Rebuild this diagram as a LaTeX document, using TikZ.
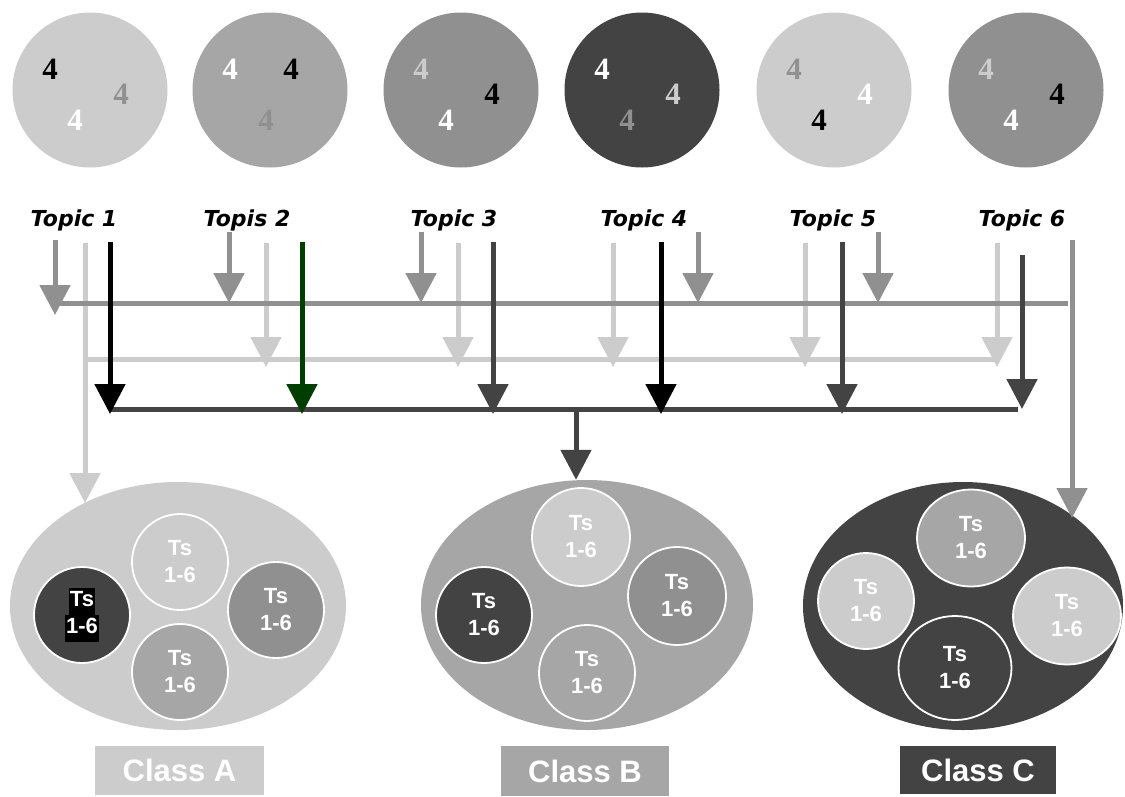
\documentclass[tikz,border=0pt]{standalone}
\usepackage{fontspec}
\setmainfont{Liberation Sans}
\newfontfamily\numfont{Liberation Serif}
\newfontfamily\topicfont{DejaVu Sans}
\usetikzlibrary{arrows.meta,shapes.geometric}

\definecolor{cL}{RGB}{203,204,203}
\definecolor{cM}{RGB}{166,166,166}
\definecolor{cG}{RGB}{144,144,144}
\definecolor{cD}{RGB}{67,67,67}
\definecolor{cGreen}{RGB}{0,62,0}

% black highlight behind a line of text
\newcommand\tshl[1]{{\setlength\fboxsep{0pt}\colorbox{black}{\strut\kern1pt#1\kern1pt}}}

\begin{document}
\begin{tikzpicture}[x=1pt,y=-1pt,
  disc/.style={circle,minimum size=155pt,inner sep=0pt},
  digit/.style={font=\numfont\bfseries\fontsize{31}{31}\selectfont,inner sep=0pt},
  topic/.style={font=\topicfont\bfseries\itshape\fontsize{22}{22}\selectfont,anchor=base,inner sep=0pt},
  flow/.style={line width=5pt,-{Triangle[width=30pt,length=30pt]}},
  hbar/.style={line width=5pt},
  classell/.style={ellipse,inner sep=0pt},
  tsdisc/.style={ellipse,draw=white,line width=1.8pt,inner sep=0pt,
    minimum width=96pt,minimum height=96pt,text=white,align=center,
    font=\bfseries\fontsize{22}{27}\selectfont},
  classtag/.style={minimum width=169pt,minimum height=49pt,inner sep=0pt,
    text=white,font=\bfseries\fontsize{31}{31}\selectfont},
]
\useasboundingbox (0,0) rectangle (1125,796);

% ---------- top row of discs ----------
\foreach \n/\x/\c in {1/90/cL,2/270/cM,3/461/cG,4/642/cD,5/834/cL,6/1026/cG}
  \node[disc,fill=\c] (top\n) at (\x,90) {};

\node[digit,text=black] (d1a) at ([shift={(-40,-21)}]top1) {4};
\node[digit,text=cG]    (d1b) at ([shift={(31,4)}]top1) {4};
\node[digit,text=white] (d1c) at ([shift={(-15,30)}]top1) {4};

\node[digit,text=white] (d2a) at ([shift={(-40,-21)}]top2) {4};
\node[digit,text=black] (d2b) at ([shift={(21,-21)}]top2) {4};
\node[digit,text=cG]    (d2c) at ([shift={(-4,30)}]top2) {4};

\node[digit,text=cL]    (d3a) at ([shift={(-40,-21)}]top3) {4};
\node[digit,text=black] (d3b) at ([shift={(31,4)}]top3) {4};
\node[digit,text=white] (d3c) at ([shift={(-15,30)}]top3) {4};

\node[digit,text=white] (d4a) at ([shift={(-40,-21)}]top4) {4};
\node[digit,text=cL]    (d4b) at ([shift={(31,4)}]top4) {4};
\node[digit,text=cG]    (d4c) at ([shift={(-15,30)}]top4) {4};

\node[digit,text=cG]    (d5a) at ([shift={(-40,-21)}]top5) {4};
\node[digit,text=white] (d5b) at ([shift={(31,4)}]top5) {4};
\node[digit,text=black] (d5c) at ([shift={(-15,30)}]top5) {4};

\node[digit,text=cL]    (d6a) at ([shift={(-40,-21)}]top6) {4};
\node[digit,text=black] (d6b) at ([shift={(31,4)}]top6) {4};
\node[digit,text=white] (d6c) at ([shift={(-15,30)}]top6) {4};

% ---------- topic labels ----------
\node[topic] (t1) at (74,226)   {Topic 1};
\node[topic] (t2) at (247,226)  {Topis 2};
\node[topic] (t3) at (454,226)  {Topic 3};
\node[topic] (t4) at (644,226)  {Topic 4};
\node[topic] (t5) at (833,226)  {Topic 5};
\node[topic] (t6) at (1022,226) {Topic 6};

% ---------- classes ----------
\node[classell,fill=cL,minimum width=336pt,minimum height=248pt] (ellA) at (178,606) {};
\node[classell,fill=cM,minimum width=332pt,minimum height=250pt] (ellB) at (587,605) {};
\node[classell,fill=cD,minimum width=320pt,minimum height=248pt] (ellC) at (963,606) {};

\node[tsdisc,fill=cD] (a1) at (82,615)  {\tshl{Ts}\\\tshl{1-6}};
\node[tsdisc,fill=cL] (a2) at (180,562) {Ts\\1-6};
\node[tsdisc,fill=cG] (a3) at (276,610) {Ts\\1-6};
\node[tsdisc,fill=cM] (a4) at (180,672) {Ts\\1-6};

\node[tsdisc,fill=cL,minimum width=98pt,minimum height=98pt] (b1) at (581,537) {Ts\\1-6};
\node[tsdisc,fill=cD] (b2) at (484,615) {Ts\\1-6};
\node[tsdisc,fill=cG,minimum width=98pt,minimum height=98pt] (b3) at (677,596) {Ts\\1-6};
\node[tsdisc,fill=cM] (b4) at (587,673) {Ts\\1-6};

\node[tsdisc,fill=cM,minimum width=108pt,minimum height=97pt] (c1) at (971,538) {Ts\\1-6};
\node[tsdisc,fill=cL] (c2) at (866,601) {Ts\\1-6};
\node[tsdisc,fill=cL,minimum width=108pt,minimum height=97pt] (c3) at (1067,616) {Ts\\1-6};
\node[tsdisc,fill=cD,minimum width=113pt,minimum height=104pt] (c4) at (955,668) {Ts\\1-6};

\node[classtag,fill=cL] (tagA) at (179.5,770.5) {Class A};
\node[classtag,fill=cM,minimum width=168pt,minimum height=50pt] (tagB) at (585,771) {Class B};
\node[classtag,fill=cD,minimum width=156pt,minimum height=48pt] (tagC) at (978,770) {Class C};

% ---------- light flows: into Class A ----------
\coordinate (la0) at (85,243);
\coordinate (laA) at (85,503);
\draw[flow,cL] (la0) -- (laA);
\coordinate (lbl) at (85,359);
\coordinate (lbr) at (997,359);
\draw[hbar,cL] (lbl) -- (lbr);
\foreach \i/\x in {2/266,3/458,4/613,5/805,6/997}{
  \coordinate (ls\i) at (\x,243);
  \coordinate (le\i) at (\x,367);
  \draw[flow,cL] (ls\i) -- (le\i);
}

% ---------- grey flows: into Class C ----------
\coordinate (gbl) at (58,303);
\coordinate (gbr) at (1068,303);
\draw[hbar,cG] (gbl) -- (gbr);
\coordinate (gs1) at (55,240);
\coordinate (ge1) at (55,315);
\draw[flow,cG] (gs1) -- (ge1);
\foreach \i/\x in {2/229,3/421,4/698,5/878}{
  \coordinate (gs\i) at (\x,232);
  \coordinate (ge\i) at (\x,303);
  \draw[flow,cG] (gs\i) -- (ge\i);
}
\coordinate (gc0) at (1072,240);
\coordinate (gcC) at (1072,518);
\draw[flow,cG] (gc0) -- (gcC);

% ---------- dark flows: into Class B ----------
\coordinate (dbl) at (110,409);
\coordinate (dbr) at (1018,409);
\draw[hbar,cD] (dbl) -- (dbr);
\foreach \i/\x/\c in {1/110/black,2/302/cGreen,3/493/cD,4/661/black,5/842/cD}{
  \coordinate (ds\i) at (\x,242);
  \coordinate (de\i) at (\x,414);
  \draw[flow,\c] (ds\i) -- (de\i);
}
\coordinate (ds6) at (1022,255);
\coordinate (de6) at (1022,409);
\draw[flow,cD] (ds6) -- (de6);
\coordinate (db0) at (576,409);
\draw[flow,cD] (db0) -- (db0 |- ellB.north);
\end{tikzpicture}
\end{document}
